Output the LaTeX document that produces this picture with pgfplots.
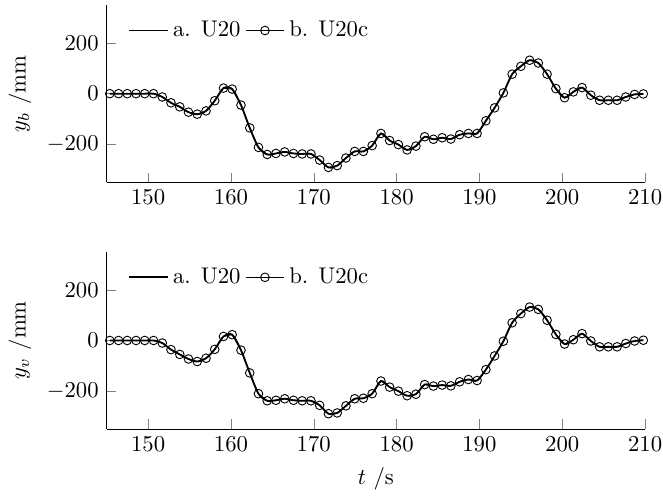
\documentclass[border=0pt]{standalone}
\usepackage{pgfplots}
\pgfplotsset{compat=1.18}
\usepackage{pgfplotstable}
\pgfplotstableread{
x y
145.37 0
146.43 0
147.48 0
148.54 0
149.59 0
150.65 0
151.71 -13
152.76 -36
153.82 -52
154.87 -73
155.93 -81
156.99 -68
158.04 -28
159.10 22
160.15 18
161.21 -45
162.27 -135
163.32 -212
164.38 -240
165.43 -236
166.49 -230
167.55 -236
168.60 -238
169.66 -238
170.71 -262
171.77 -291
172.83 -284
173.88 -254
174.94 -228
175.99 -228
177.05 -205
178.11 -157
179.16 -185
180.22 -201
181.27 -222
182.33 -207
183.39 -170
184.44 -180
185.50 -174
186.55 -179
187.61 -162
188.67 -157
189.72 -157
190.78 -107
191.83 -56
192.89 3
193.95 77
195.00 108
196.06 132
197.11 121
198.17 77
199.23 20
200.28 -16
201.34 7
202.39 24
203.45 -6
204.51 -26
205.56 -26
206.62 -26
207.67 -13
208.73 -3
209.79 -1
}\datab
\pgfplotstableread{
x y
145.37 0
146.43 0
147.48 0
148.54 0
149.59 0
150.65 0
151.71 -10
152.76 -36
153.82 -55
154.87 -73
155.93 -83
156.99 -70
158.04 -35
159.10 16
160.15 23
161.21 -38
162.27 -128
163.32 -210
164.38 -238
165.43 -236
166.49 -230
167.55 -236
168.60 -238
169.66 -238
170.71 -256
171.77 -289
172.83 -286
173.88 -258
174.94 -230
175.99 -228
177.05 -210
178.11 -160
179.16 -184
180.22 -200
181.27 -218
182.33 -212
183.39 -174
184.44 -180
185.50 -176
186.55 -179
187.61 -163
188.67 -154
189.72 -158
190.78 -115
191.83 -61
192.89 -3
193.95 70
195.00 106
196.06 132
197.11 123
198.17 80
199.23 24
200.28 -14
201.34 3
202.39 27
203.45 -2
204.51 -25
205.56 -25
206.62 -25
207.67 -12
208.73 -2
209.79 1
}\datav
\pgfplotsset{
  myaxis/.style={
    scale only axis,
    width=237.1pt, height=78.1pt,
    xmin=145, xmax=210,
    ymin=-350, ymax=350,
    xtick={150,160,...,210},
    ytick={-200,0,200},
    axis x line=bottom,
    axis y line=left,
    axis line style={-},
    tick align=inside,
    legend columns=2,
    legend style={draw=none, fill=none, at={(0.026,0.964)}, anchor=north west},
  }
}
\begin{document}
\begin{tikzpicture}
\begin{axis}[myaxis, ylabel={$y_b$ /mm}]
\addplot[black, thick, smooth, no marks] table[x=x,y=y] {\datab};
\addlegendentry{a. U20}
\addplot[black, mark=o, mark size=1.9pt] table[x=x,y=y] {\datab};
\addlegendentry{b. U20c}
\coordinate (tl) at (rel axis cs:0,1);
\end{axis}
\begin{axis}[myaxis, at={(0,-108.7pt)}, ylabel={$y_v$ /mm}, xlabel={$t$ /s}]
\addplot[black, thick, smooth, no marks] table[x=x,y=y] {\datav};
\addlegendentry{a. U20}
\addplot[black, mark=o, mark size=1.9pt] table[x=x,y=y] {\datav};
\addlegendentry{b. U20c}
\coordinate (br) at (rel axis cs:1,0);
\end{axis}
\pgfresetboundingbox
\path[use as bounding box] ([xshift=-47pt,yshift=2.2pt]tl) rectangle ([xshift=7.9pt,yshift=-29.1pt]br);
\end{tikzpicture}
\end{document}
